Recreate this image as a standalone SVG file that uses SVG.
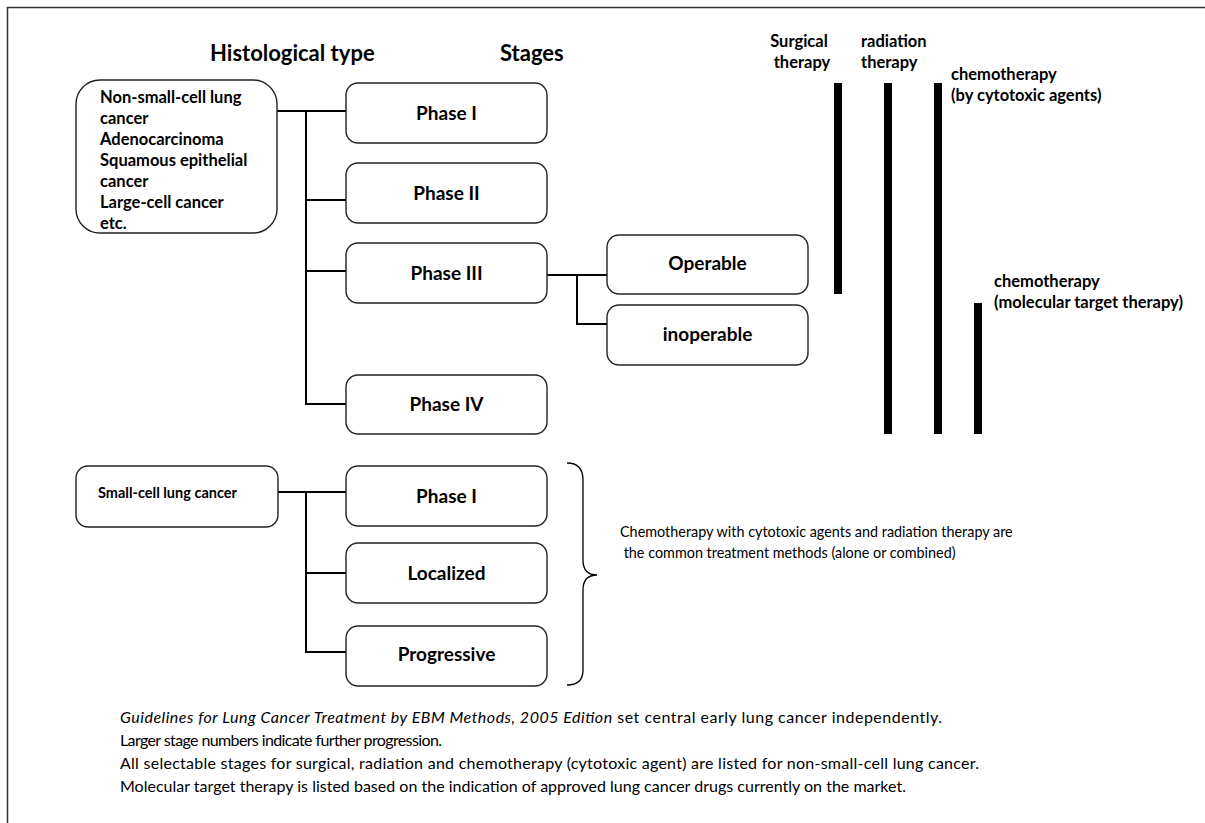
<svg xmlns="http://www.w3.org/2000/svg" width="1205" height="823" viewBox="0 0 1205 823">
  <style>
    .box { fill: #ffffff; stroke: #222222; stroke-width: 1.4; }
    .wire { fill: none; stroke: #000000; stroke-width: 2; }
    .bar { fill: #000000; }
    .b { font-family: Lato, "Liberation Sans", sans-serif; font-weight: bold; fill: #000000; }
    .r { font-family: Lato, "Liberation Sans", sans-serif; fill: #000000; }
    .title { font-size: 22px; }
    .phase { font-size: 19px; text-anchor: middle; }
    .small { font-size: 16.5px; }
    .note { font-size: 14.4px; }
    .foot { font-size: 16px; }
  </style>
  <rect width="1205" height="823" fill="#ffffff"/>
  <!-- outer frame (top and left edges) -->
  <path d="M7.5,823 V7.5 H1205" fill="none" stroke="#333333" stroke-width="1.5"/>

  <!-- column headings -->
  <text class="b title" x="210" y="61">Histological type</text>
  <text class="b title" x="500" y="61">Stages</text>

  <!-- connectors -->
  <g id="connectors">
    <path class="wire" d="M277,111 H346 M306,111 V404 H346 M306,200 H346 M306,271 H346"/>
    <path class="wire" d="M547,275 H607 M577,275 V324 H607"/>
    <path class="wire" d="M278,492 H346 M306,492 V652 H346 M306,573 H346"/>
    <path fill="none" stroke="#000000" stroke-width="1.3" d="M567,463 Q583,463 583,480 V560 Q583,575 597,575 Q583,575 583,590 V670 Q583,685 567,685"/>
  </g>

  <!-- non-small-cell lung cancer -->
  <g id="nsclc">
    <rect class="box" x="76" y="80" width="201" height="153" rx="24"/>
    <text class="b small" x="100" y="103">Non-small-cell lung</text>
    <text class="b small" x="100" y="124">cancer</text>
    <text class="b small" x="100" y="145">Adenocarcinoma</text>
    <text class="b small" x="100" y="166">Squamous epithelial</text>
    <text class="b small" x="100" y="187">cancer</text>
    <text class="b small" x="100" y="208">Large-cell cancer</text>
    <text class="b small" x="100" y="229">etc.</text>
  </g>

  <g id="nsclc-phase1">
    <rect class="box" x="346" y="83" width="201" height="60" rx="12"/>
    <text class="b phase" x="446.5" y="120">Phase I</text>
  </g>
  <g id="nsclc-phase2">
    <rect class="box" x="346" y="163" width="201" height="60" rx="12"/>
    <text class="b phase" x="446.5" y="200">Phase II</text>
  </g>
  <g id="nsclc-phase3">
    <rect class="box" x="346" y="243" width="201" height="60" rx="12"/>
    <text class="b phase" x="446.5" y="280">Phase III</text>
  </g>
  <g id="nsclc-phase4">
    <rect class="box" x="346" y="375" width="201" height="59" rx="12"/>
    <text class="b phase" x="446.5" y="411">Phase IV</text>
  </g>
  <g id="operable">
    <rect class="box" x="607" y="235" width="201" height="59" rx="12"/>
    <text class="b phase" x="707.5" y="270">Operable</text>
  </g>
  <g id="inoperable">
    <rect class="box" x="607" y="305" width="201" height="60" rx="12"/>
    <text class="b phase" x="707.5" y="341">inoperable</text>
  </g>

  <!-- treatment bars -->
  <g id="surgical">
    <text class="b small" x="799" y="47" text-anchor="middle">Surgical</text>
    <text class="b small" x="802" y="68" text-anchor="middle">therapy</text>
    <rect class="bar" x="834" y="83" width="8" height="211"/>
  </g>
  <g id="radiation">
    <text class="b small" x="861" y="47">radiation</text>
    <text class="b small" x="861" y="68">therapy</text>
    <rect class="bar" x="884" y="83" width="8" height="351"/>
  </g>
  <g id="chemo-cytotoxic">
    <text class="b small" x="951" y="80">chemotherapy</text>
    <text class="b small" x="951" y="101">(by cytotoxic agents)</text>
    <rect class="bar" x="934" y="83" width="8" height="351"/>
  </g>
  <g id="chemo-molecular">
    <text class="b small" x="994" y="287">chemotherapy</text>
    <text class="b small" x="994" y="308">(molecular target therapy)</text>
    <rect class="bar" x="974" y="303" width="8" height="131"/>
  </g>

  <!-- small-cell lung cancer -->
  <g id="sclc">
    <rect class="box" x="76" y="466" width="202" height="61" rx="12"/>
    <text class="b" x="98" y="498" font-size="14.5">Small-cell lung cancer</text>
  </g>
  <g id="sclc-phase1">
    <rect class="box" x="346" y="466" width="201" height="60" rx="12"/>
    <text class="b phase" x="446.5" y="503">Phase I</text>
  </g>
  <g id="sclc-localized">
    <rect class="box" x="346" y="543" width="201" height="60" rx="12"/>
    <text class="b phase" x="446.5" y="580">Localized</text>
  </g>
  <g id="sclc-progressive">
    <rect class="box" x="346" y="626" width="201" height="60" rx="12"/>
    <text class="b phase" x="446.5" y="661">Progressive</text>
  </g>

  <g id="sclc-note">
    <text class="r note" x="620" y="537">Chemotherapy with cytotoxic agents and radiation therapy are</text>
    <text class="r note" x="620" y="558" xml:space="preserve"> the common treatment methods (alone or combined)</text>
  </g>

  <!-- footnotes -->
  <g id="footnotes">
    <text class="r foot" x="120" y="723" textLength="822" lengthAdjust="spacing"><tspan font-style="italic">Guidelines for Lung Cancer Treatment by EBM Methods, 2005 Edition</tspan> set central early lung cancer independently.</text>
    <text class="r foot" x="120" y="746" textLength="322" lengthAdjust="spacing">Larger stage numbers indicate further progression.</text>
    <text class="r foot" x="120" y="769" textLength="859" lengthAdjust="spacing">All selectable stages for surgical, radiation and chemotherapy (cytotoxic agent) are listed for non-small-cell lung cancer.</text>
    <text class="r foot" x="120" y="792" textLength="786" lengthAdjust="spacing">Molecular target therapy is listed based on the indication of approved lung cancer drugs currently on the market.</text>
  </g>
</svg>
